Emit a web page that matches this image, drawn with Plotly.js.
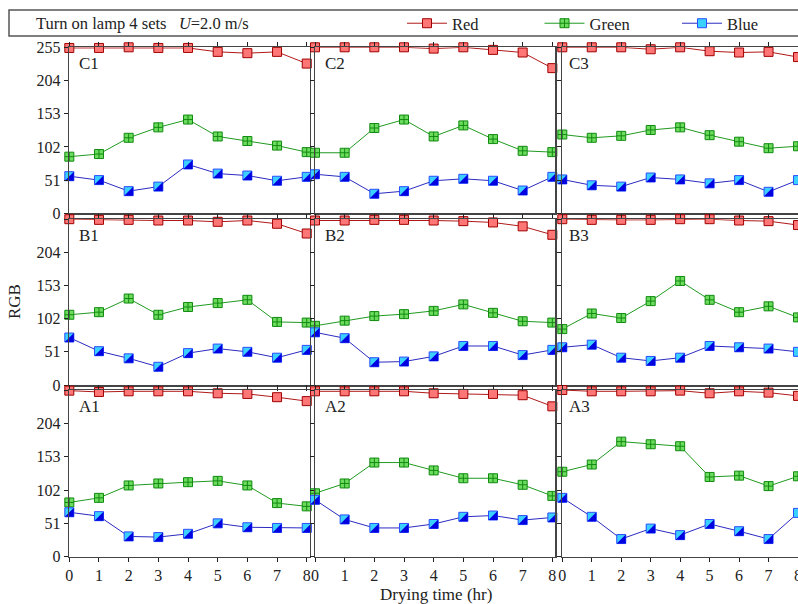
<!DOCTYPE html>
<html>
<head>
<meta charset="utf-8">
<script src="https://cdn.plot.ly/plotly-3.0.1.min.js"></script>
<style>
  html, body { margin: 0; padding: 0; overflow: hidden; background: #fff; }
  #chart { width: 798px; height: 604px; }
</style>
</head>
<body>
<div id="chart"></div>
<script>
// Drying time (hr) and the RGB scale
const hours = [0, 1, 2, 3, 4, 5, 6, 7, 8];
const yTickVals = [0, 51, 102, 153, 204, 255];

// Row C
const redC1 = [254, 254, 255, 254, 254, 248, 246, 248, 230];
const greenC1 = [87, 91, 116, 132, 144, 118, 111, 104, 94];
const blueC1 = [57, 51, 34, 41, 75, 61, 58, 50, 56];
const redC2 = [255, 255, 255, 255, 253, 255, 251, 247, 223];
const greenC2 = [93, 93, 131, 144, 118, 135, 114, 96, 94];
const blueC2 = [60, 56, 30, 34, 50, 53, 50, 35, 56];
const redC3 = [255, 255, 255, 252, 255, 249, 247, 248, 240];
const greenC3 = [121, 116, 119, 128, 132, 120, 110, 100, 103];
const blueC3 = [52, 43, 41, 55, 52, 46, 51, 33, 51];

// Row B
const redB1 = [255, 254, 254, 253, 253, 251, 253, 248, 233];
const greenB1 = [108, 112, 133, 108, 120, 126, 131, 97, 96];
const blueB1 = [73, 52, 41, 28, 49, 56, 51, 42, 54];
const redB2 = [253, 253, 254, 254, 253, 252, 250, 244, 231];
const greenB2 = [91, 99, 106, 109, 114, 124, 111, 98, 96];
const blueB2 = [81, 72, 35, 36, 44, 60, 60, 46, 54];
const redB3 = [255, 254, 254, 254, 255, 255, 253, 252, 246];
const greenB3 = [86, 110, 103, 129, 160, 131, 112, 121, 104];
const blueB3 = [58, 62, 42, 37, 42, 60, 58, 56, 51];

// Row A
const redA1 = [254, 252, 253, 253, 253, 250, 249, 244, 238];
const greenA1 = [83, 90, 109, 112, 114, 116, 109, 82, 77];
const blueA1 = [68, 62, 31, 30, 35, 51, 45, 44, 44];
const redA2 = [253, 253, 253, 253, 250, 249, 249, 247, 230];
const greenA2 = [97, 112, 144, 144, 132, 120, 120, 110, 93];
const blueA2 = [87, 57, 44, 44, 50, 61, 63, 56, 60];
const redA3 = [255, 253, 253, 253, 254, 250, 253, 251, 246];
const greenA3 = [130, 141, 176, 172, 169, 122, 124, 108, 123];
const blueA3 = [90, 61, 27, 43, 33, 50, 39, 27, 67];

const panelNames = [['C1', 'C2', 'C3'], ['B1', 'B2', 'B3'], ['A1', 'A2', 'A3']];
const panelSeries = {
  C1: [redC1, greenC1, blueC1], C2: [redC2, greenC2, blueC2], C3: [redC3, greenC3, blueC3],
  B1: [redB1, greenB1, blueB1], B2: [redB2, greenB2, blueB2], B3: [redB3, greenB3, blueB3],
  A1: [redA1, greenA1, blueA1], A2: [redA2, greenA2, blueA2], A3: [redA3, greenA3, blueA3]
};

const seriesNames = ['Red', 'Green', 'Blue'];
const titleText = 'Turn on lamp 4 sets\u00a0\u00a0\u00a0<i>U</i>=2.0 m/s';
const xTitle = 'Drying time (hr)';
const yTitle = 'RGB';

// ---- geometry (pixels) ----
const W = 798, H = 604;
const FONT = 'Liberation Serif';
const rowsPx = [[47.3, 213.3], [219.2, 385], [390, 556.7]];
// [left px, right px, x at right edge]
const colsPx = [[69.3, 309.7, 8.1], [315, 555.3, 8.1], [562.3, 798, 8]];
const yMax = 255;
const markerSize = 9;

const fx = px => px / W;
const fy = px => 1 - px / H;

const lineStyle = { color: '#444', width: 1.5 };

const data = [];
const layout = {
  width: W, height: H,
  margin: { l: 0, r: 0, t: 0, b: 0, autoexpand: false },
  paper_bgcolor: '#fff', plot_bgcolor: 'rgba(0,0,0,0)',
  font: { family: FONT, size: 16, color: '#222' },
  showlegend: true,
  legend: {
    orientation: 'h', x: fx(402), y: fy(6), xanchor: 'left', yanchor: 'top',
    font: { family: FONT, size: 16.5, color: '#222' },
    itemwidth: 40, entrywidth: 82.5, entrywidthmode: 'pixels',
    bgcolor: 'rgba(0,0,0,0)', borderwidth: 0, traceorder: 'normal'
  },
  shapes: [{
    type: 'rect', xref: 'paper', yref: 'paper',
    x0: fx(9), x1: fx(W + 3), y0: fy(36), y1: fy(10),
    line: { color: '#555', width: 1.5 }, fillcolor: 'rgba(0,0,0,0)'
  }],
  annotations: [
    { text: titleText, xref: 'paper', yref: 'paper', x: fx(34), y: fy(23),
      xanchor: 'left', yanchor: 'middle', showarrow: false,
      font: { family: FONT, size: 16.5, color: '#222' } },
    { text: yTitle, xref: 'paper', yref: 'paper', x: fx(14), y: fy(302),
      xanchor: 'center', yanchor: 'middle', showarrow: false, textangle: -90,
      font: { family: FONT, size: 17, color: '#222' } },
    { text: xTitle, xref: 'paper', yref: 'paper', x: fx(436), y: fy(594),
      xanchor: 'center', yanchor: 'middle', showarrow: false,
      font: { family: FONT, size: 17, color: '#222' } }
  ]
};

const styles = [
  { line: { color: '#b01818', width: 1 },
    marker: { symbol: 'square', size: markerSize, color: '#ff7676', line: { color: '#a00000', width: 1 } } },
  { line: { color: '#1f9a1f', width: 1 },
    marker: { symbol: 'square-cross', size: markerSize, color: '#6ddc5e', line: { color: '#108a10', width: 1 } } },
  { line: { color: '#2a2ac0', width: 1 },
    marker: { symbol: 'square', size: markerSize, color: '#3ad0ff', line: { color: '#2b4cff', width: 1 } } }
];

panelNames.forEach((row, r) => {
  row.forEach((name, c) => {
    const k = r * 3 + c;
    const id = k + 1;          // base axes
    const oid = k + 10;        // overlay axes for the dark half of the blue marker
    const xk = id === 1 ? 'xaxis' : 'xaxis' + id;
    const yk = id === 1 ? 'yaxis' : 'yaxis' + id;
    const xr = id === 1 ? 'x' : 'x' + id;
    const yr = id === 1 ? 'y' : 'y' + id;
    const [x0, x1, xMax] = colsPx[c];
    const [y0, y1] = rowsPx[r];

    layout[xk] = {
      domain: [fx(x0), fx(x1)], range: [0, xMax], anchor: yr,
      tickvals: hours, ticktext: hours.map(String),
      showticklabels: r === 2, ticklabeloverflow: 'allow',
      ticks: 'outside', ticklen: 4, tickwidth: 1, tickcolor: '#222',
      showline: true, linecolor: lineStyle.color, linewidth: lineStyle.width, mirror: 'ticks',
      showgrid: false, zeroline: false, fixedrange: true,
      tickfont: { family: FONT, size: 16, color: '#222' }
    };
    layout[yk] = {
      domain: [fy(y1), fy(y0)], range: [0, yMax], anchor: xr,
      tickvals: yTickVals,
      ticktext: yTickVals.map(v => (r > 0 && v === 255) ? '' : String(v)),
      showticklabels: c === 0, ticks: 'outside', ticklen: 4, tickwidth: 1, tickcolor: '#222',
      showline: true, linecolor: lineStyle.color, linewidth: lineStyle.width, mirror: 'ticks',
      showgrid: false, zeroline: false, fixedrange: true,
      tickfont: { family: FONT, size: 16, color: '#222' }
    };

    // overlay axes offset by a third of the marker half-width
    const shiftPx = markerSize / 6;
    const dx = shiftPx * xMax / (x1 - x0);
    const dy = shiftPx * yMax / (y1 - y0);
    layout['xaxis' + oid] = {
      domain: [fx(x0), fx(x1)], range: [-dx, xMax - dx], overlaying: xr,
      anchor: 'y' + oid, visible: false, fixedrange: true
    };
    layout['yaxis' + oid] = {
      domain: [fy(y1), fy(y0)], range: [dy, yMax + dy], overlaying: yr,
      anchor: 'x' + oid, visible: false, fixedrange: true
    };

    const series = panelSeries[name];
    series.forEach((vals, s) => {
      const tr = {
        type: 'scatter', mode: 'lines+markers', name: seriesNames[s],
        x: hours, y: vals, xaxis: xr, yaxis: yr,
        line: styles[s].line, marker: styles[s].marker,
        showlegend: k === 0, legendgroup: seriesNames[s],
        cliponaxis: false, hoverinfo: 'skip'
      };
      if (k === 0 && s === 2) tr.legendwidth = 40;
      data.push(tr);
    });
    // dark lower-right half of the blue markers
    data.push({
      type: 'scatter', mode: 'markers', name: 'Blue',
      x: hours, y: series[2], xaxis: 'x' + oid, yaxis: 'y' + oid,
      marker: { symbol: 'triangle-se', size: markerSize * 10 / 9, color: '#0000e0', line: { width: 0 } },
      showlegend: false, legendgroup: 'Blue', cliponaxis: false, hoverinfo: 'skip'
    });

    layout.annotations.push({
      text: name, xref: 'paper', yref: 'paper',
      x: fx(x0 + (c === 2 ? 5 : 8)), y: fy(y0 + 16.5),
      xanchor: 'left', yanchor: 'middle', showarrow: false,
      font: { family: FONT, size: 17, color: '#222' }
    });
  });
});

Plotly.newPlot('chart', data, layout, { displayModeBar: false, staticPlot: true });
</script>
</body>
</html>
